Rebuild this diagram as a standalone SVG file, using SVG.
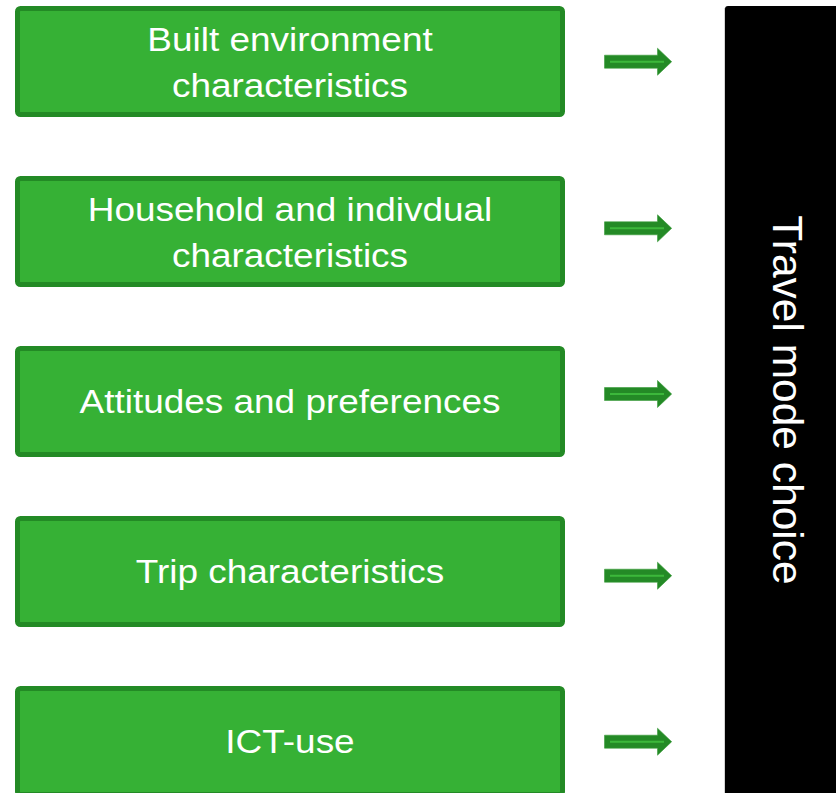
<svg xmlns="http://www.w3.org/2000/svg" xmlns:xlink="http://www.w3.org/1999/xlink" width="836" height="793" viewBox="0 0 836 793">
  <style>
    .box { fill: #36b135; stroke: #238a25; stroke-width: 5; }
    .label { fill: #ffffff; font-family: "Liberation Sans", Arial, sans-serif; font-size: 33px; text-anchor: middle; }
    .vlabel { fill: #ffffff; font-family: "Liberation Sans", Arial, sans-serif; font-size: 42.5px; text-anchor: middle; }
    .arrow-body { fill: #248a26; stroke: #3a9c3a; stroke-width: 0.6; }
    .arrow-core { stroke: #3cb83b; stroke-width: 2; fill: none; }
  </style>
  <defs>
    <!-- block arrow centred on y=0 -->
    <g id="arrow">
      <polygon class="arrow-body" points="604.5,-6.5 657.5,-6.5 657.5,-13.5 671.7,0 657.5,13.5 657.5,6.5 604.5,6.5"/>
      <line class="arrow-core" x1="610" y1="0" x2="664" y2="0"/>
    </g>
  </defs>
  <rect width="836" height="793" fill="#ffffff"/>

  <!-- outcome column -->
  <g id="travel-mode-choice">
    <rect x="725" y="6" width="130" height="800" rx="3" fill="#000000"/>
    <line x1="724.5" y1="8" x2="724.5" y2="793" stroke="#d4d4d4" stroke-width="1"/>
    <text class="vlabel" transform="translate(773,400) rotate(90)">Travel mode choice</text>
  </g>

  <!-- factor boxes -->
  <g id="built-environment">
    <rect class="box" x="17.5" y="8.5" width="545" height="106" rx="3"/>
    <text class="label" transform="translate(290,51) scale(1.12,1)">Built environment</text>
    <text class="label" transform="translate(290,96.7) scale(1.12,1)">characteristics</text>
  </g>
  <g id="household-individual">
    <rect class="box" x="17.5" y="178.5" width="545" height="106" rx="3"/>
    <text class="label" transform="translate(290,221) scale(1.12,1)">Household and indivdual</text>
    <text class="label" transform="translate(290,266.7) scale(1.12,1)">characteristics</text>
  </g>
  <g id="attitudes">
    <rect class="box" x="17.5" y="348.5" width="545" height="106" rx="3"/>
    <text class="label" transform="translate(290,413.3) scale(1.12,1)">Attitudes and preferences</text>
  </g>
  <g id="trip">
    <rect class="box" x="17.5" y="518.5" width="545" height="106" rx="3"/>
    <text class="label" transform="translate(290,583.3) scale(1.12,1)">Trip characteristics</text>
  </g>
  <g id="ict-use">
    <rect class="box" x="17.5" y="688.5" width="545" height="106" rx="3"/>
    <text class="label" transform="translate(290,753.3) scale(1.12,1)">ICT-use</text>
  </g>

  <!-- connectors -->
  <g id="connectors">
    <use xlink:href="#arrow" transform="translate(0,61.7)"/>
    <use xlink:href="#arrow" transform="translate(0,228.3)"/>
    <use xlink:href="#arrow" transform="translate(0,394)"/>
    <use xlink:href="#arrow" transform="translate(0,575.7)"/>
    <use xlink:href="#arrow" transform="translate(0,741.7)"/>
  </g>
</svg>
